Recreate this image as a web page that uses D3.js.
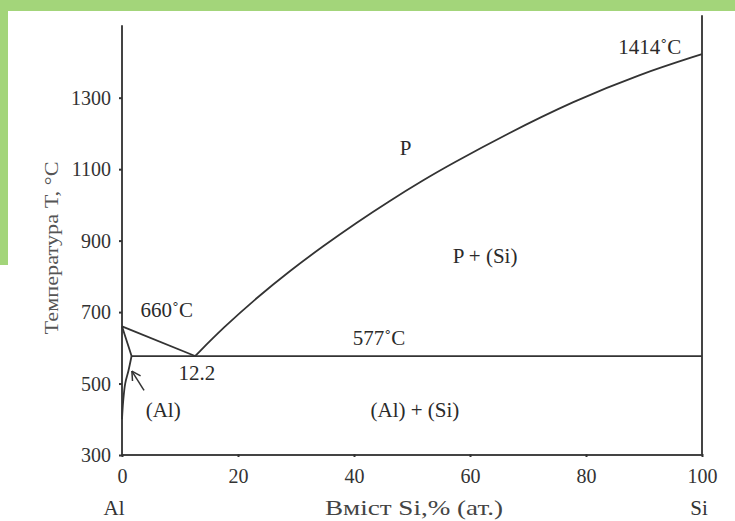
<!DOCTYPE html>
<html>
<head>
<meta charset="utf-8">
<script src="https://cdn.jsdelivr.net/npm/d3@7"></script>
<style>
  html, body { margin: 0; padding: 0; background: #fff; }
  svg { display: block; }
  text { font-family: "Liberation Serif", "DejaVu Serif", serif; }
</style>
</head>
<body>
<svg id="chart" width="735" height="521"></svg>
<script>
// ---- data (Si content, at.% ; temperature, °C) ----
const xTicks = [0, 20, 40, 60, 80, 100];
const yTicks = [300, 500, 700, 900, 1100, 1300];
const axisTop = 1503;          // top of left axis line
const siLineTop = 1531;        // top of right (Si) vertical line
const meltAl = 660;
const eutecticT = 577;
const eutecticX = 12.6;
const solubilityX = 1.65;
// liquidus on the Si side
const liquidusSi = [
  [12.6, 577], [17.5, 657], [23.3, 741], [28.9, 815], [34.7, 885],
  [40.4, 950], [46.2, 1012], [51.9, 1069], [56.6, 1113], [66.4, 1199],
  [77.8, 1290], [89.3, 1366], [100, 1422]
];
const liquidusAl = [[0, meltAl], [eutecticX, eutecticT]];
const solidusAl = [[0, meltAl], [0.8, 620], [solubilityX, eutecticT]];
const solvusAl = [[solubilityX, eutecticT], [1.1, 535], [0.55, 500], [0.2, 450], [0, 400]];
const arrowPts = [[3.8, 481], [1.7, 535]];   // tail -> tip
const regionLabels = [
  { text: "660˚C", x: 7.7, t: 687 },
  { text: "12.2", x: 12.9, t: 510 },
  { text: "577˚C", x: 44.3, t: 608 },
  { text: "P", x: 48.9, t: 1140 },
  { text: "P + (Si)", x: 62.6, t: 837 },
  { text: "(Al)", x: 7.1, t: 406 },
  { text: "(Al) + (Si)", x: 50.5, t: 406 },
  { text: "1414˚C", x: 91.0, t: 1422 }
];
const endLabels = ["Al", "Si"];
const xTitle = "Вміст Si,% (ат.)";
const yTitle = "Температура T, °C";

// ---- drawing ----
const svg = d3.select("#chart");
const x = d3.scaleLinear().domain([0, 100]).range([122, 702]);
const y = d3.scaleLinear().domain([300, 1300]).range([455, 97.7]);
const ink = "#333";

// green frame
svg.append("rect").attr("x", 0).attr("y", 0).attr("width", 735).attr("height", 11).attr("fill", "#a3d57a");
svg.append("rect").attr("x", 0).attr("y", 0).attr("width", 8).attr("height", 265).attr("fill", "#a3d57a");

const lin = d3.line().x(d => x(d[0])).y(d => y(d[1]));
const smooth = d3.line().x(d => x(d[0])).y(d => y(d[1])).curve(d3.curveBasis);
const cr = d3.line().x(d => x(d[0])).y(d => y(d[1])).curve(d3.curveCatmullRom);
const g = svg.append("g").attr("fill", "none").attr("stroke", ink).attr("stroke-width", 1.8);

// frame lines
g.append("path").attr("d", lin([[0, axisTop], [0, 300], [100, 300], [100, siLineTop]])).attr("stroke", "#444").attr("stroke-width", 2);

// phase lines
g.append("path").attr("d", lin(liquidusAl));
g.append("path").attr("d", smooth(liquidusSi));
g.append("path").attr("d", lin([[solubilityX, eutecticT], [100, eutecticT]]));
g.append("path").attr("d", cr(solidusAl));
g.append("path").attr("d", cr(solvusAl));

// arrow
const [tail, tip] = arrowPts.map(p => [x(p[0]), y(p[1])]);
g.append("line").attr("x1", tail[0]).attr("y1", tail[1]).attr("x2", tip[0]).attr("y2", tip[1]).attr("stroke-width", 1.5);
const ang = Math.atan2(tail[1] - tip[1], tail[0] - tip[0]);
[-0.5, 0.5].forEach(da => {
  g.append("line")
    .attr("x1", tip[0]).attr("y1", tip[1])
    .attr("x2", tip[0] + 10 * Math.cos(ang + da))
    .attr("y2", tip[1] + 10 * Math.sin(ang + da))
    .attr("stroke-width", 1.5);
});

// axes ticks
const yAxis = d3.axisLeft(y).tickValues(yTicks).tickSize(3).tickPadding(8).tickFormat(d3.format("d"));
const ya = svg.append("g").attr("transform", `translate(${x(0)},0)`).call(yAxis);
ya.select(".domain").remove();
ya.selectAll(".tick line").attr("stroke", ink).attr("stroke-width", 2);
ya.selectAll(".tick text").attr("font-size", 20).attr("fill", ink).attr("font-family", "Liberation Serif").attr("dy", "0.34em");

const xAxis = d3.axisBottom(x).tickValues(xTicks).tickSize(3).tickPadding(12).tickFormat(d3.format("d"));
const xa = svg.append("g").attr("transform", `translate(0,${y(300) - 1})`).call(xAxis);
xa.select(".domain").remove();
xa.selectAll(".tick line").attr("stroke", ink).attr("stroke-width", 2);
xa.selectAll(".tick text").attr("font-size", 20).attr("fill", ink).attr("font-family", "Liberation Serif");

// region labels
svg.append("g").selectAll("text").data(regionLabels).join("text")
  .attr("x", d => x(d.x)).attr("y", d => y(d.t))
  .attr("text-anchor", "middle").attr("font-size", 21).attr("fill", "#2a2a2a")
  .text(d => d.text);

// end labels and titles
svg.append("text").attr("x", x(0) - 8).attr("y", 515).attr("text-anchor", "middle")
  .attr("font-size", 21).attr("fill", ink).text(endLabels[0]);
svg.append("text").attr("x", x(100) - 3).attr("y", 515).attr("text-anchor", "middle")
  .attr("font-size", 21).attr("fill", ink).text(endLabels[1]);
svg.append("text").attr("x", 414).attr("y", 515).attr("text-anchor", "middle")
  .attr("font-size", 21).attr("fill", "#444").attr("textLength", 178).attr("lengthAdjust", "spacingAndGlyphs")
  .text(xTitle);
svg.append("text").attr("transform", "translate(58,248) rotate(-90)").attr("text-anchor", "middle")
  .attr("font-size", 19).attr("fill", "#555").attr("textLength", 173).attr("lengthAdjust", "spacingAndGlyphs")
  .text(yTitle);
</script>
</body>
</html>
